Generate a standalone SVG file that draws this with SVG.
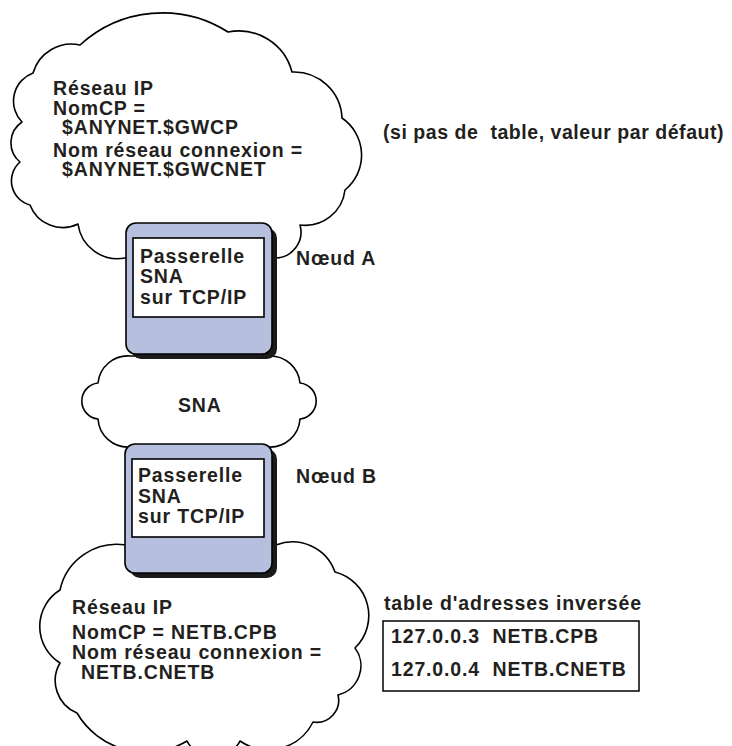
<svg xmlns="http://www.w3.org/2000/svg" width="732" height="746" viewBox="0 0 732 746">
<style>
.cloud{fill:#fff;stroke:#000;stroke-width:1.6;stroke-linejoin:round}
.shadow{fill:#1a1a1a}
.box{fill:#b6c0de;stroke:#000;stroke-width:1.6}
.inner{fill:#fff;stroke:#000;stroke-width:1.6}
.tbl{fill:none;stroke:#000;stroke-width:1.5}
text{font-family:"Liberation Sans",Arial,Helvetica,sans-serif;font-weight:bold;font-size:19.5px;fill:#231f20;letter-spacing:0.85px}
.note{letter-spacing:0.55px}
</style>
<g id="cloud-ip-top">
<path class="cloud" d="M 80,45 A 122 122 0 0 1 228,32 A 55 55 0 0 1 292,72 A 48 48 0 0 1 342,118 A 45 45 0 0 1 345,190 A 40 40 0 0 1 300,225 A 26 26 0 0 1 275,258 L 125,258 A 40 40 0 0 1 78,224 A 35 35 0 0 1 30,205 A 25 25 0 0 1 20,162 A 25 25 0 0 1 22,122 A 30 30 0 0 1 33,73 A 40 40 0 0 1 80,45 Z"/>
<text x="53" y="95">Réseau IP</text>
<text x="53" y="115">NomCP =</text>
<text x="62" y="134">$ANYNET.$GWCP</text>
<text x="53" y="157">Nom réseau connexion =</text>
<text x="62" y="176">$ANYNET.$GWCNET</text>
</g>
<g id="note-default">
<text class="note" x="383" y="139" xml:space="preserve">(si pas de  table, valeur par défaut)</text>
</g>
<g id="cloud-sna">
<path class="cloud" d="M 130,356 L 270,356 A 30 30 0 0 1 300,383 A 18.1 18.1 0 0 1 300,419 A 30 30 0 0 1 268,447 L 130,447 A 30 30 0 0 1 98,419 A 18.1 18.1 0 0 1 98,383 A 30 30 0 0 1 130,356 Z"/>
<text x="178" y="412">SNA</text>
</g>
<g id="cloud-ip-bottom">
<path class="cloud" d="M 276,545 A 45 45 0 0 1 335,572 A 45 45 0 0 1 355,648 A 30 30 0 0 1 338,695 A 22 22 0 0 1 313,722 A 50 50 0 0 1 240,741 A 30 30 0 0 1 187,741 A 80 80 0 0 1 77,713 A 35 35 0 0 1 60,663 A 43 43 0 0 1 60,590 A 58 58 0 0 1 126,545 Z"/>
<text x="72" y="614">Réseau IP</text>
<text x="72" y="639">NomCP = NETB.CPB</text>
<text x="72" y="659">Nom réseau connexion =</text>
<text x="81" y="679">NETB.CNETB</text>
</g>
<g id="node-a">
<rect class="shadow" x="131" y="228" width="146" height="131" rx="10"/>
<rect class="box" x="126" y="223" width="146" height="131" rx="10"/>
<rect class="inner" x="133" y="238" width="131" height="79"/>
<text x="140" y="263">Passerelle</text>
<text x="140" y="283">SNA</text>
<text x="140" y="304">sur TCP/IP</text>
<text x="296" y="265">Nœud A</text>
</g>
<g id="node-b">
<rect class="shadow" x="130" y="449" width="147" height="129" rx="10"/>
<rect class="box" x="125" y="444" width="147" height="129" rx="10"/>
<rect class="inner" x="132" y="459" width="132" height="78"/>
<text x="138" y="482">Passerelle</text>
<text x="138" y="503">SNA</text>
<text x="138" y="523">sur TCP/IP</text>
<text x="296" y="483">Nœud B</text>
</g>
<g id="table">
<text x="384" y="610">table d'adresses inversée</text>
<rect class="tbl" x="383" y="621" width="256" height="70"/>
<text x="391" y="643" xml:space="preserve">127.0.0.3  NETB.CPB</text>
<text x="391" y="676" xml:space="preserve">127.0.0.4  NETB.CNETB</text>
</g>
<g id="connectors"></g>
</svg>
